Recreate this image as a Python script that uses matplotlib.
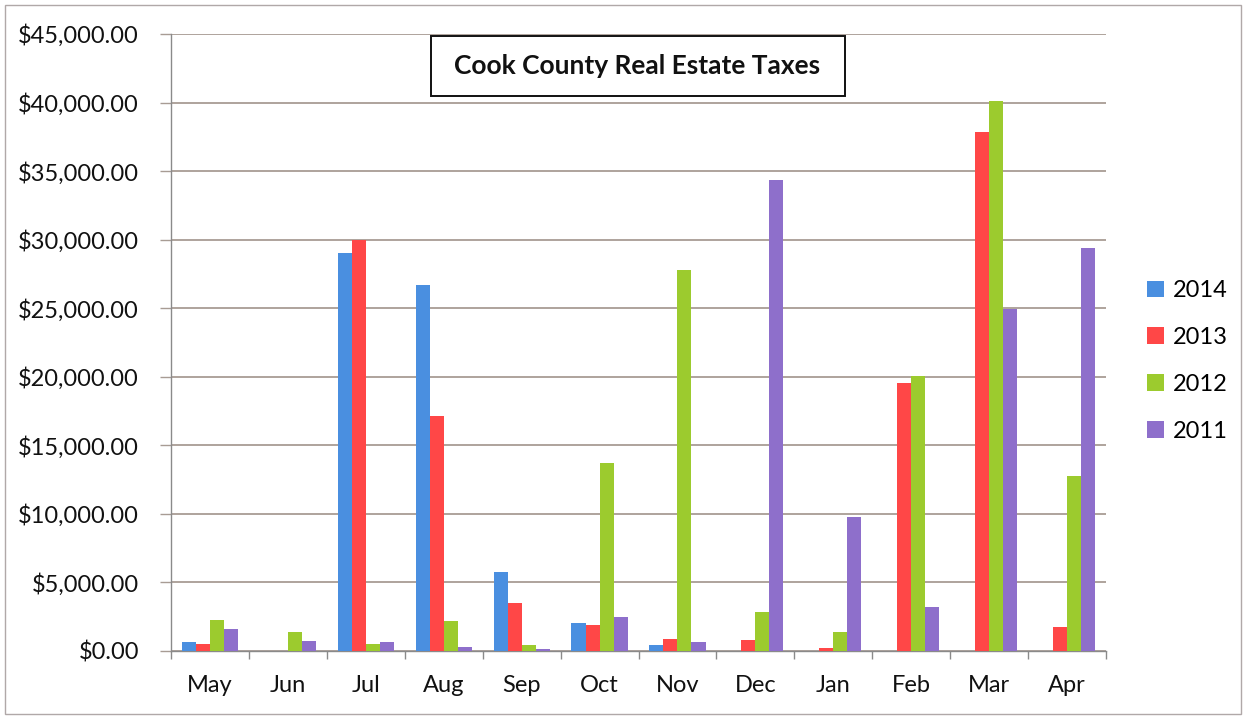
import matplotlib
matplotlib.use("Agg")
import matplotlib.pyplot as plt
import numpy as np
from matplotlib.ticker import FuncFormatter, MultipleLocator
from matplotlib.patches import Rectangle

months = ["May", "Jun", "Jul", "Aug", "Sep", "Oct", "Nov", "Dec", "Jan", "Feb", "Mar", "Apr"]
series_names = ["2014", "2013", "2012", "2011"]
v2014 = [630, 0, 29000, 26700, 5760, 2060, 440, 0, 0, 0, 0, 0]
v2013 = [540, 0, 30000, 17130, 3480, 1900, 870, 800, 240, 19510, 37850, 1750]
v2012 = [2240, 1360, 490, 2210, 415, 13730, 27770, 2820, 1360, 20040, 40110, 12780]
v2011 = [1580, 750, 680, 270, 120, 2450, 680, 34380, 9790, 3230, 24930, 29400]
colors = ["#4A8FE0", "#FF4747", "#9CCB2E", "#8E6FCB"]
title = "Cook County Real Estate Taxes"

FONT = ["Lato", "DejaVu Sans"]
plt.rcParams["font.family"] = FONT

fig = plt.figure(figsize=(12.46, 7.17), dpi=100)
ax = fig.add_axes([171/1246, 66/717, 935/1246, 617/717])

x = np.arange(len(months))
bw = 0.18
data = [v2014, v2013, v2012, v2011]
for i, (vals, c, name) in enumerate(zip(data, colors, series_names)):
    ax.bar(x + (i - 1.5) * bw, vals, width=bw, color=c, label=name, zorder=3)

ax.set_xlim(-0.5, len(months) - 0.5)
ax.set_ylim(0, 45000)
ax.yaxis.set_major_locator(MultipleLocator(5000))
ax.yaxis.set_major_formatter(FuncFormatter(lambda v, p: "${:,.2f}".format(v)))
ax.grid(axis="y", color="#A89C94", linewidth=1.3, zorder=0)
ax.set_axisbelow(True)

ax.set_xticks(x)
ax.set_xticklabels(months)
ax.set_xticks(np.arange(-0.5, len(months)), minor=True)
ax.tick_params(axis="x", which="major", length=0, labelsize=17, pad=17, colors="#111111")
ax.tick_params(axis="x", which="minor", length=6, width=1, color="#8A8A8A", direction="out")
ax.tick_params(axis="y", length=8, width=1, color="#A89C94", labelsize=17, pad=15, labelcolor="#111111")

for s in ["top", "right"]:
    ax.spines[s].set_visible(False)
ax.spines["left"].set_color("#8A8A8A")
ax.spines["bottom"].set_color("#8A8A8A")
ax.spines["left"].set_linewidth(1)
ax.spines["bottom"].set_linewidth(1)

# Title box
fig.patches.append(Rectangle((431/1246, 1 - 96/717), 414/1246, 60/717, transform=fig.transFigure,
                             facecolor="white", edgecolor="#111111", linewidth=1.4, zorder=9))
fig.text(637/1246, 1 - 66/717, title, ha="center", va="center", fontsize=19, fontweight="bold",
         color="#111111", zorder=10)

leg = fig.legend(loc="center left", bbox_to_anchor=(1126/1246, 1 - 361/717), frameon=False,
                 fontsize=17, handlelength=0.7, handleheight=0.7, handletextpad=0.4,
                 labelspacing=1.1)

# outer border
fig.patches.append(Rectangle((5/1246, 3/717), 1236/1246, 709/717, transform=fig.transFigure,
                             fill=False, edgecolor="#B0A8A8", linewidth=1))

fig.savefig("out.png", dpi=100, facecolor="white")
